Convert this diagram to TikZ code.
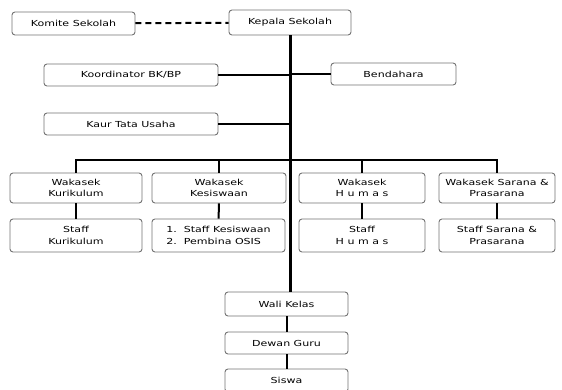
\documentclass[tikz,border=0pt]{standalone}
\usepackage{fontspec}
\newfontfamily\orgfont{DejaVu Sans}[FakeStretch=1.33]
\tikzset{
	box/.style={draw=black!55, rounded corners=3pt, line width=0.9pt, fill=white, align=center, inner sep=1pt, font=\orgfont\fontsize{8.3}{11.5}\selectfont},
	link/.style={line width=2pt},
	mainlink/.style={line width=3pt}
}
\begin{document}
	\begin{tikzpicture}[x=1pt,y=-1pt]
		\useasboundingbox (0,0) rectangle (562,390);
		\clip (0,0) rectangle (562,390);
		\node[box, minimum width=123, minimum height=23] (komite) at (73.5,23.5) {Komite Sekolah};
		\node[box, minimum width=122, minimum height=25] (kepala) at (290,22.5) {Kepala Sekolah};
		\node[box, minimum width=174, minimum height=22] (koord) at (131,75) {Koordinator BK/BP};
		\node[box, minimum width=125, minimum height=22] (bendahara) at (393.5,74) {Bendahara};
		\node[box, minimum width=174, minimum height=22] (kaur) at (131,124) {Kaur Tata Usaha};
		% wakasek
		\node[box, minimum width=132, minimum height=30] (wkur) at (76,188) {Wakasek\\Kurikulum};
		\node[box, minimum width=134, minimum height=30] (wkes) at (219,188) {Wakasek\\Kesiswaan};
		\node[box, minimum width=126, minimum height=30] (whum) at (362,188) {Wakasek\\H u m a s};
		\node[box, minimum width=116, minimum height=30] (wsar) at (497,188) {Wakasek Sarana \&\\Prasarana};
		% staff
		\node[box, minimum width=132, minimum height=33] (skur) at (76,235.5) {Staff\\Kurikulum};
		\node[box, minimum width=133, minimum height=33, align=left] (skes) at (218.5,235.5) {1.\ \ Staff Kesiswaan\\2.\ \ Pembina OSIS};
		\node[box, minimum width=126, minimum height=33] (shum) at (362,235.5) {Staff\\H u m a s};
		\node[box, minimum width=116, minimum height=33] (ssar) at (497,235.5) {Staff Sarana \&\\Prasarana};
		\node[box, minimum width=123, minimum height=24] (wali) at (286.5,304) {Wali Kelas};
		\node[box, minimum width=123, minimum height=22] (dewan) at (286.5,343) {Dewan Guru};
		\node[box, minimum width=123, minimum height=23] (siswa) at (286.5,380.5) {Siswa};
		\coordinate (bus) at (290,160);

		\draw[link, dash pattern=on 6pt off 4pt] (komite) -- (kepala);
		\draw[link] (koord.east) -- (koord.east -| bus);
		\draw[link] (bendahara.west) -- (bendahara.west -| bus);
		\draw[link] (kaur.east) -- (kaur.east -| bus);
		\draw[link] (wkur.north) |- (bus) -| (wsar.north);
		\draw[link] (wkes.north) -- (wkes.north |- bus);
		\draw[link] (whum.north) -- (whum.north |- bus);
		\foreach \w/\s in {wkur/skur, wkes/skes, whum/shum, wsar/ssar}
			\draw[link] (\w) -- (\s);
		\draw[mainlink] (kepala.south -| bus) -- (wali.north -| bus);
		\draw[link] (wali) -- (dewan);
		\draw[link] (dewan) -- (siswa);
	\end{tikzpicture}
\end{document}
